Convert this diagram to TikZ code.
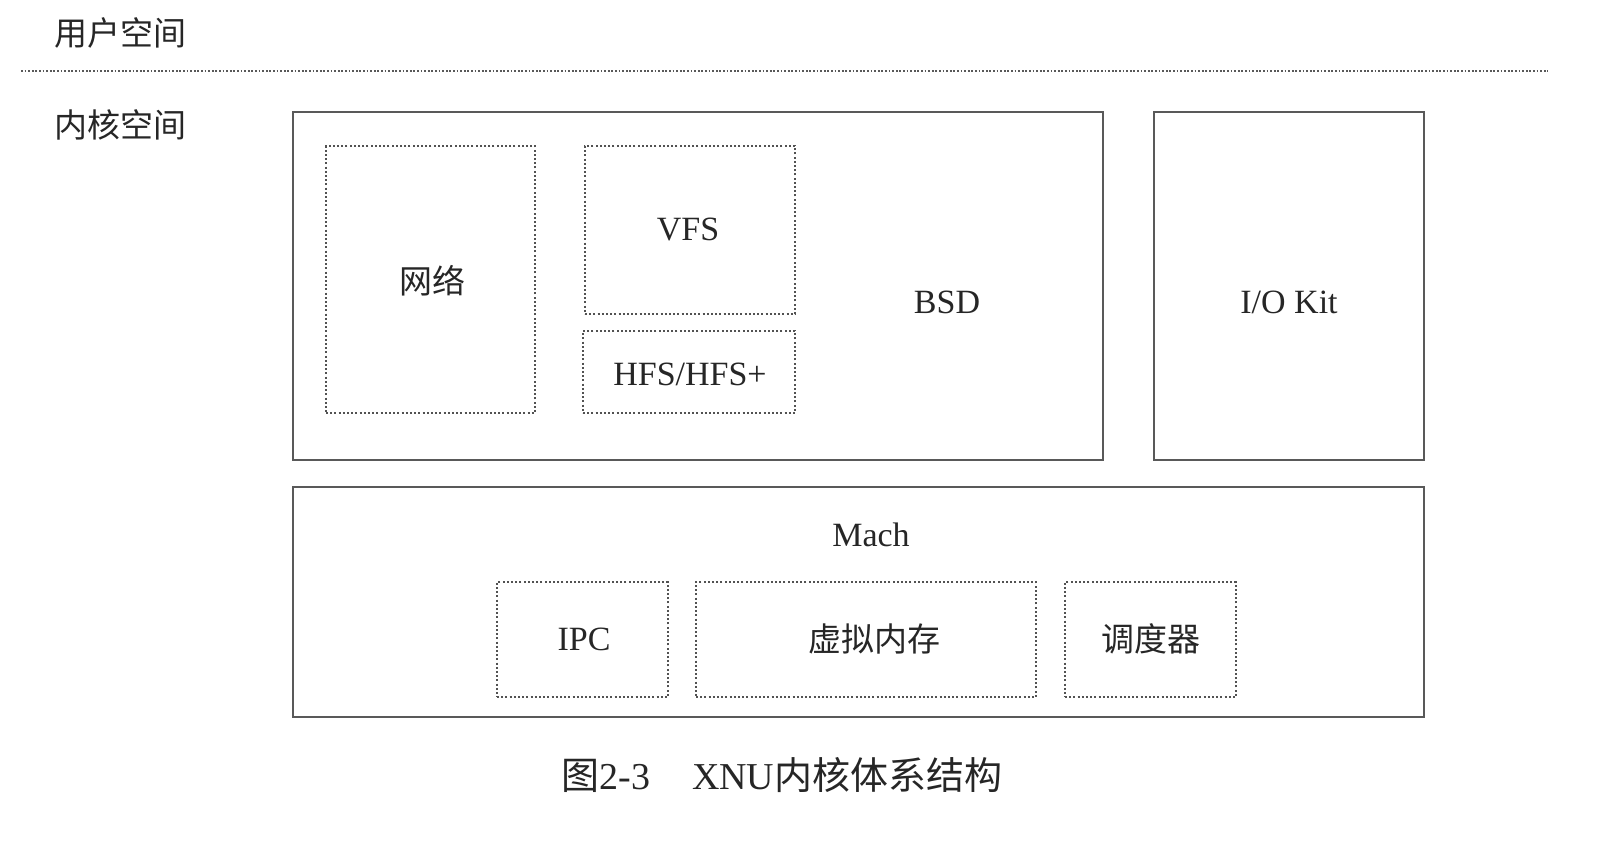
\documentclass[tikz,border=0pt]{standalone}
\usepackage{fontspec}
\setmainfont{Liberation Serif}
\newfontfamily\cjk{Noto Sans CJK SC}
\begin{document}
\begin{tikzpicture}[x=1pt,y=-1pt,
  solidbox/.style={draw=black!65,line width=2.5pt,inner sep=0pt,minimum width=#1},
  dotbox/.style={draw=black!68,line width=1.8pt,dash pattern=on 2pt off 2.2pt,inner sep=0pt},
  lat/.style={font=\fontsize{34}{40}\selectfont,text=black!85},
  cn/.style={font=\cjk\fontsize{33}{40}\selectfont,text=black!85}]
\useasboundingbox[fill=white] (0,0) rectangle (1620,844);
% labels
\node[cn,anchor=west,inner sep=0pt] (user) at (54,33) {用户空间};
\node[cn,anchor=west,inner sep=0pt] (kern) at (54,125) {内核空间};
\coordinate (sepL) at (21,71);
\coordinate (sepR) at (1548,71);
\draw[black!65,line width=1.8pt,dash pattern=on 1.8pt off 1.8pt] (sepL) -- (sepR);
% BSD
\node[solidbox=810pt,minimum height=348pt] (bsd) at (698,286) {};
\node[lat] (bsdt) at (947,302) {BSD};
\node[dotbox,minimum width=209pt,minimum height=267pt] (net) at (430.5,279.5) {};
\node[cn] (nett) at (432,281) {网络};
\node[dotbox,minimum width=210pt,minimum height=168pt] (vfs) at (690,230) {};
\node[lat] (vfst) at (688,229) {VFS};
\node[dotbox,minimum width=212pt,minimum height=82pt] (hfs) at (689,372) {};
\node[lat] (hfst) at (690,374) {HFS/HFS+};
% IO Kit
\node[solidbox=270pt,minimum height=348pt] (iokit) at (1289,286) {};
\node[lat] (iokitt) at (1289,302) {I/O Kit};
% Mach
\node[solidbox=1131pt,minimum height=230pt] (mach) at (858.5,602) {};
\node[lat] (macht) at (871,535) {Mach};
\node[dotbox,minimum width=171pt,minimum height=115pt] (ipc) at (582.5,639.5) {};
\node[lat] (ipct) at (584,639) {IPC};
\node[dotbox,minimum width=340pt,minimum height=115pt] (vm) at (866,639.5) {};
\node[cn] (vmt) at (874,639) {虚拟内存};
\node[dotbox,minimum width=171pt,minimum height=115pt] (sched) at (1150.5,639.5) {};
\node[cn] (schedt) at (1151,639) {调度器};
% caption
\node[font=\cjk\fontsize{38}{44}\selectfont,text=black!85] (cap) at (782,775) {图{\rmfamily 2-3}\hspace{1.1em}{\rmfamily XNU}内核体系结构};
\end{tikzpicture}
\end{document}
